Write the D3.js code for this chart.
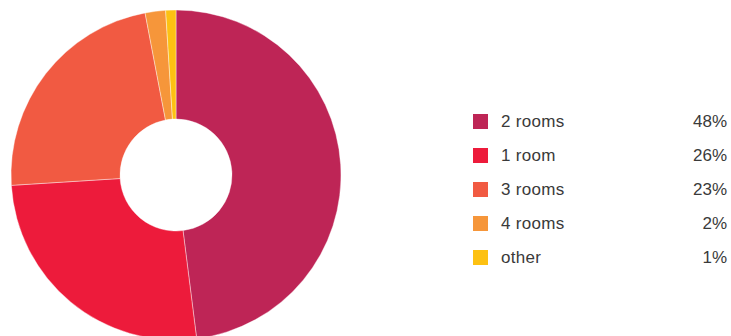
<!DOCTYPE html>
<html>
<head>
<meta charset="utf-8">
<script src="https://cdn.jsdelivr.net/npm/d3@7"></script>
<style>
  html, body { margin: 0; padding: 0; background: #fff; }
  svg { display: block; }
</style>
</head>
<body>
<svg id="chart" width="731" height="336"></svg>
<script>
// Share of dwellings by number of rooms
const categories = ["2 rooms", "1 room", "3 rooms", "4 rooms", "other"];
const shares = [48, 26, 23, 2, 1];
const colors = ["#BE2556", "#ED1B3B", "#F15A42", "#F6963A", "#FDC112"];

const svg = d3.select("#chart");
const cx = 176, cy = 175, outerR = 165, innerR = 56;

const data = categories.map((c, i) => ({ name: c, value: shares[i], color: colors[i] }));

const pie = d3.pie().value(d => d.value).sort(null);
const arc = d3.arc().innerRadius(innerR).outerRadius(outerR);

svg.append("g")
  .attr("transform", `translate(${cx},${cy})`)
  .selectAll("path")
  .data(pie(data))
  .join("path")
  .attr("d", arc)
  .attr("fill", d => d.data.color)
  .attr("stroke", "#fff")
  .attr("stroke-width", 0.4);

// Legend
const rowY = d3.scalePoint().domain(categories).range([122, 258]);
const legend = svg.append("g")
  .selectAll("g")
  .data(data)
  .join("g")
  .attr("transform", d => `translate(0,${rowY(d.name)})`);

legend.append("rect")
  .attr("x", 473).attr("y", -8)
  .attr("width", 15).attr("height", 15)
  .attr("fill", d => d.color);

const font = "'Liberation Sans', Arial, sans-serif";

legend.append("text")
  .attr("x", 501).attr("y", -0.5)
  .attr("dy", "0.35em")
  .attr("font-family", font)
  .attr("font-size", 17)
  .attr("letter-spacing", 0.3)
  .attr("fill", "#3a3a3a")
  .text(d => d.name);

legend.append("text")
  .attr("x", 727).attr("y", -0.5)
  .attr("dy", "0.35em")
  .attr("text-anchor", "end")
  .attr("font-family", font)
  .attr("font-size", 17)
  .attr("fill", "#3a3a3a")
  .text(d => d.value + "%");
</script>
</body>
</html>
